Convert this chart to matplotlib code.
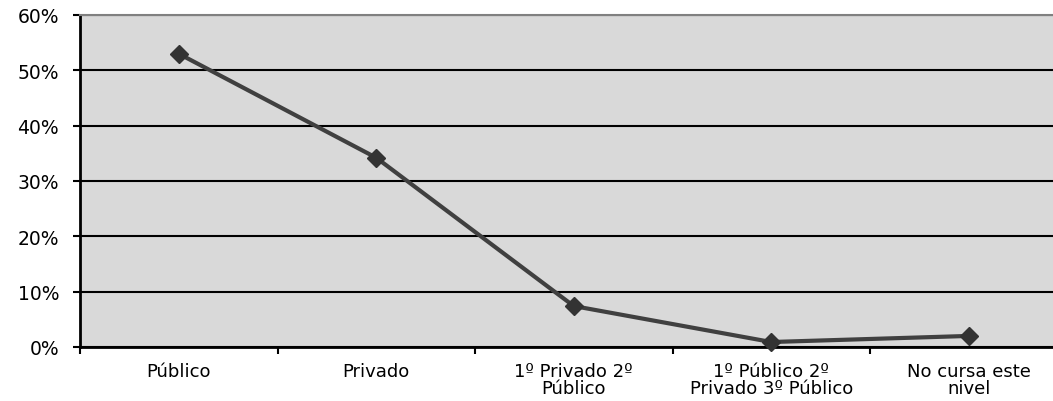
import numpy as np
import matplotlib
matplotlib.use("Agg")
import matplotlib.pyplot as plt
from matplotlib.ticker import PercentFormatter, FixedLocator

categories = ["Público", "Privado", "1º Privado 2º\nPúblico",
              "1º Público 2º\nPrivado 3º Público", "No cursa este\nnivel"]
values = [53.0, 34.2, 7.4, 0.9, 2.0]
y_ticks = [0, 10, 20, 30, 40, 50, 60]

plt.rcParams["font.family"] = ["DejaVu Sans"]

W, H = 1053, 402
fig = plt.figure(figsize=(W / 100, H / 100), dpi=100)
# plot area runs a little past the right edge of the picture, as in the source
ax = fig.add_axes([80 / W, 1 - 348 / H, 987.5 / W, (348 - 16) / H])
ax.set_facecolor("#d9d9d9")

x = np.arange(len(categories))
ax.plot(x, values, color="#404040", lw=3, marker="D", ms=9,
        markerfacecolor="#333333", markeredgecolor="#333333", zorder=3,
        clip_on=False)

ax.set_xlim(-0.5, len(categories) - 0.5)
ax.set_ylim(0, 60)
ax.set_yticks(y_ticks)
ax.yaxis.set_major_formatter(PercentFormatter(decimals=0))
ax.grid(True, axis="y", color="black", lw=1.5)
ax.set_axisbelow(True)

ax.set_xticks(x)
ax.set_xticklabels(categories, fontsize=13, linespacing=0.92)
ax.tick_params(axis="x", length=0, pad=11)
ax.xaxis.set_minor_locator(FixedLocator(np.arange(-0.5, len(categories), 1.0)))
ax.tick_params(axis="x", which="minor", length=5, width=1.5, direction="out")
ax.tick_params(axis="y", labelsize=13.5, length=5, width=1.5, pad=10)

for s in ["left", "bottom"]:
    ax.spines[s].set_linewidth(2)
    ax.spines[s].set_color("black")
ax.spines["top"].set_color("#808080")
ax.spines["top"].set_linewidth(1.5)
ax.spines["right"].set_visible(False)

plt.savefig("out.png", dpi=100)
plt.close()
